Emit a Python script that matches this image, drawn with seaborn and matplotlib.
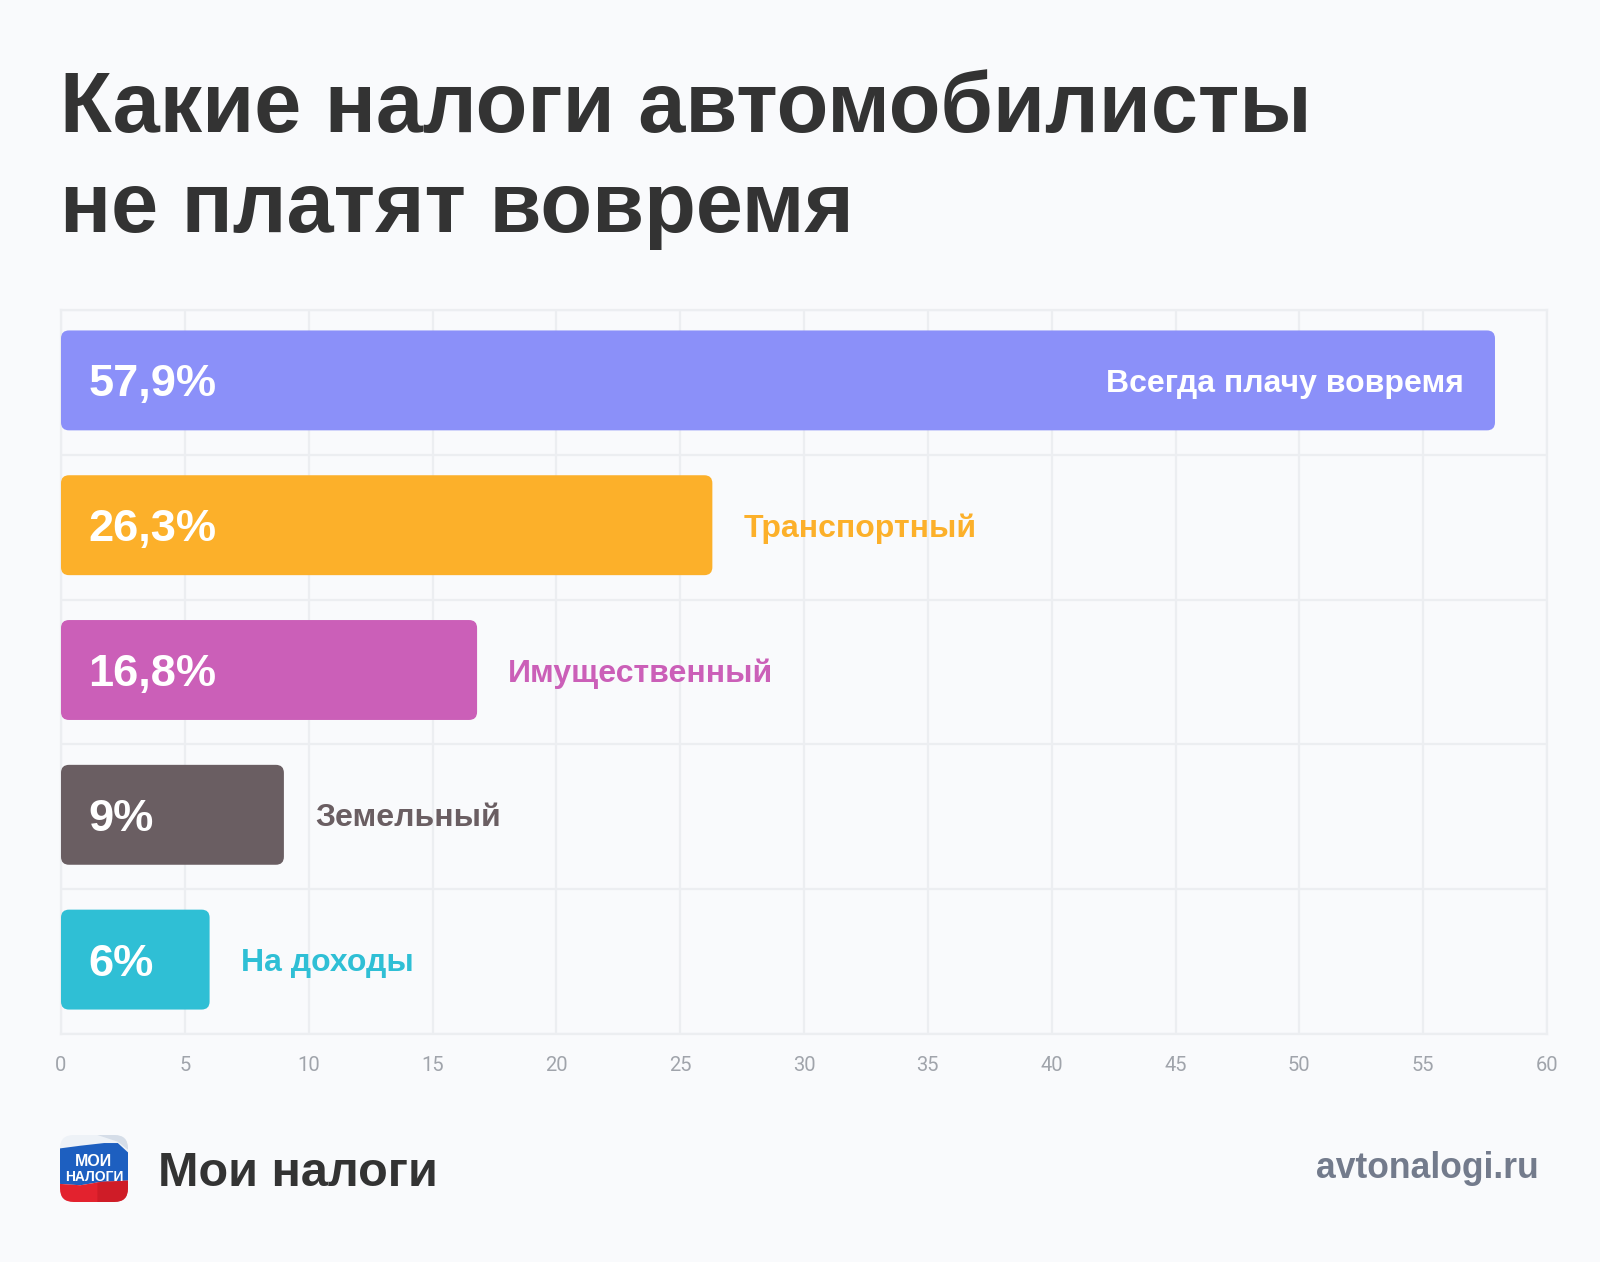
import matplotlib
matplotlib.use("Agg")
import matplotlib.pyplot as plt
import seaborn as sns
import pandas as pd
import numpy as np
from matplotlib.patches import FancyBboxPatch, Polygon

# DATA
categories = ["Всегда плачу вовремя", "Транспортный", "Имущественный", "Земельный", "На доходы"]
values = [57.9, 26.3, 16.8, 9, 6]
value_labels = ["57,9%", "26,3%", "16,8%", "9%", "6%"]
colors = ["#8b90f9", "#fcb02a", "#cb5fb8", "#6a5e62", "#2fbfd5"]
x_ticks = list(range(0, 61, 5))

title_lines = ["Какие налоги автомобилисты", "не платят вовремя"]
brand = "Мои налоги"
site = "avtonalogi.ru"

BG = "#f9fafc"
GRID = "#eceef1"
W, H = 1600, 1262

sns.set_theme(style="white")
plt.rcParams["font.family"] = ["Liberation Sans", "DejaVu Sans"]

fig = plt.figure(figsize=(W / 100, H / 100), dpi=100, facecolor=BG)


def fx(px):
    return px / W


def fy(py):
    return 1 - py / H


ax = fig.add_axes([fx(61), fy(1034), fx(1547) - fx(61), fy(310) - fy(1034)])
ax.set_facecolor(BG)

df = pd.DataFrame({"cat": categories, "val": values})
sns.barplot(data=df, x="val", y="cat", hue="cat", palette=colors, legend=False,
            orient="h", width=0.69, ax=ax, saturation=1)

# swap plain bars for rounded ones (slightly lifted like the original)
px_per_x = (1547 - 61) / 60
px_per_y = (1034 - 310) / 5
r = 8 / px_per_x
aspect = (8 / px_per_y) / r
lift = 2 / px_per_y
for p in list(ax.patches):
    x, y = p.get_x(), p.get_y()
    w, h = p.get_width(), p.get_height()
    fc = p.get_facecolor()
    p.remove()
    ax.add_patch(FancyBboxPatch((x, y - lift), w, h,
                                boxstyle=f"round,pad=0,rounding_size={r}",
                                mutation_aspect=aspect, fc=fc, ec="none", zorder=3))

ax.set_xlim(0, 60)
ax.set_ylim(4.5, -0.5)
ax.set_xticks(x_ticks)
ax.set_xticklabels([str(t) for t in x_ticks], family="Roboto", fontsize=14.5, color="#a0a4ab")
ax.tick_params(axis="x", length=0, pad=16)
ax.set_yticks([])
ax.set_yticks(np.arange(-0.5, 5, 1), minor=True)
ax.tick_params(axis="y", which="both", length=0)
ax.grid(True, axis="x", color=GRID, lw=1.6, zorder=0)
ax.grid(True, axis="y", which="minor", color=GRID, lw=1.6, zorder=0)
ax.set_axisbelow(True)
for s in ax.spines.values():
    s.set_color(GRID)
    s.set_linewidth(1.6)
ax.set_xlabel("")
ax.set_ylabel("")

for i, (v, vl, c, col) in enumerate(zip(values, value_labels, categories, colors)):
    yi = i - lift
    ax.annotate(vl, (0, yi), xytext=(19.5, 0), textcoords="offset points",
                ha="left", va="center_baseline", color="white", fontsize=32.5,
                fontweight="bold", zorder=5)
    if v > 40:
        ax.annotate(c, (v, yi), xytext=(-22.5, 0), textcoords="offset points",
                    ha="right", va="center_baseline", color="white", fontsize=23,
                    fontweight="bold", zorder=5)
    else:
        ax.annotate(c, (v, yi), xytext=(22.5, 0), textcoords="offset points",
                    ha="left", va="center_baseline", color=col, fontsize=23,
                    fontweight="bold", zorder=5)

# title
fig.text(fx(60), fy(132), title_lines[0], ha="left", va="baseline",
         fontsize=61, fontweight="bold", color="#333333")
fig.text(fx(60), fy(232), title_lines[1], ha="left", va="baseline",
         fontsize=61, fontweight="bold", color="#333333")

# footer
fig.text(fx(158), fy(1186), brand, ha="left", va="baseline",
         fontsize=35, fontweight="bold", color="#333333")
fig.text(fx(1539), fy(1178), site, ha="right", va="baseline",
         fontsize=25.6, fontweight="bold", color="#737b8c")

# logo
lax = fig.add_axes([fx(60), fy(1202), fx(128) - fx(60), fy(1135) - fy(1202)])
lax.set_xlim(0, 1)
lax.set_ylim(0, 1)
lax.axis("off")
clip = FancyBboxPatch((0, 0), 1, 1, boxstyle="round,pad=0,rounding_size=0.2",
                      fc="#eef2f7", ec="none", transform=lax.transData)
lax.add_patch(clip)
fold = Polygon([(0.55, 1), (1, 1), (1, 0.78), (0.85, 0.9)], closed=True,
               fc="#d5dde8", ec="none")
blue = Polygon([(0, 0.27), (0, 0.8), (0.3, 0.84), (0.65, 0.88), (0.85, 0.88),
                (1, 0.74), (1, 0.32), (0.6, 0.3), (0.3, 0.25)], closed=True,
               fc="#1d5fc0", ec="none")
red = Polygon([(0, 0), (0, 0.27), (0.3, 0.25), (0.6, 0.3), (1, 0.32), (1, 0)],
              closed=True, fc="#e3222e", ec="none")
shade = Polygon([(0.55, 0), (0.55, 0.3), (1, 0.32), (1, 0)], closed=True,
                fc="#b8161f", ec="none", alpha=0.45)
for p in (fold, blue, red, shade):
    lax.add_patch(p)
    p.set_clip_path(clip)
lax.text(0.5, 0.6, "МОИ", ha="center", va="center", color="white",
         fontsize=11.5, fontweight="bold", family=["Liberation Sans Narrow", "Liberation Sans"])
lax.text(0.5, 0.37, "НАЛОГИ", ha="center", va="center", color="white",
         fontsize=10, fontweight="bold", family=["Liberation Sans Narrow", "Liberation Sans"])

fig.savefig("out.png", dpi=100, facecolor=BG)
